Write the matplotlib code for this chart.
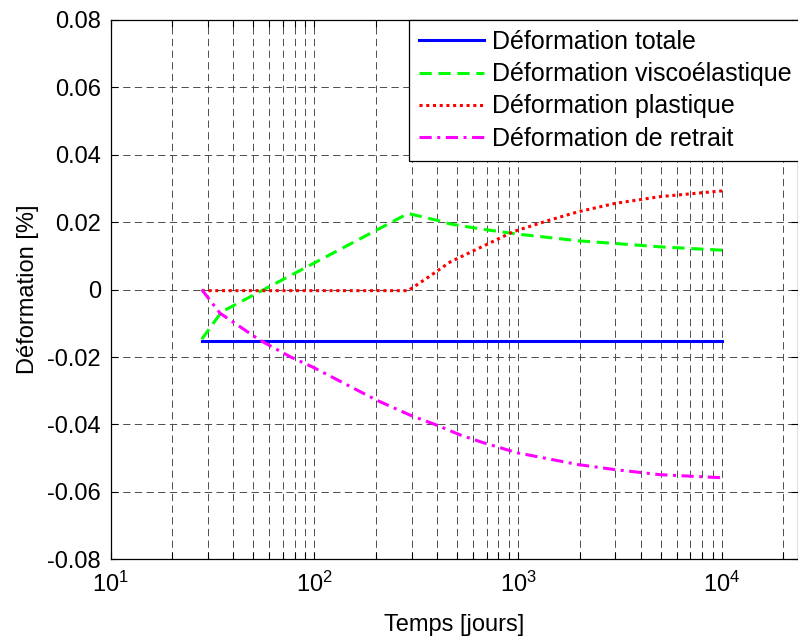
import matplotlib
matplotlib.use('Agg')
import matplotlib.pyplot as plt
from matplotlib.ticker import FixedLocator, LogLocator, NullFormatter, FixedFormatter

# fonts (Arial-like, as in MATLAB exports)
plt.rcParams['font.family'] = ['Liberation Sans', 'DejaVu Sans']
plt.rcParams['mathtext.fontset'] = 'custom'
plt.rcParams['mathtext.rm'] = 'Liberation Sans'
plt.rcParams['mathtext.it'] = 'Liberation Sans'
plt.rcParams['font.size'] = 17

# data (time in days, strain in %)
t_totale = [28, 10000]
def_totale = [-0.0152, -0.0152]

t_visco = [28, 35, 288, 398, 463, 673, 988, 1968, 2990, 4975, 10000]
def_visco = [-0.0147, -0.0066, 0.0226, 0.0206, 0.0195, 0.0179, 0.0165, 0.0145, 0.0137, 0.0127, 0.0117]

t_plast = [28, 288, 356, 463, 946, 1436, 1968, 2990, 4975, 10000]
def_plast = [-0.0003, -0.0003, 0.0034, 0.0082, 0.0172, 0.0207, 0.0231, 0.0256, 0.0276, 0.0293]

t_retrait = [28, 34.4, 54, 76, 99, 202, 294, 398, 519, 673, 988, 1968, 2990, 4975, 10000]
def_retrait = [0, -0.0070, -0.0150, -0.0199, -0.0231, -0.0328, -0.0372, -0.0402, -0.0431,
               -0.0454, -0.0484, -0.0519, -0.0534, -0.0549, -0.0558]

labels = ['Déformation totale', 'Déformation viscoélastique',
          'Déformation plastique', 'Déformation de retrait']

y_ticks = [-0.08, -0.06, -0.04, -0.02, 0, 0.02, 0.04, 0.06, 0.08]
y_ticklabels = ['-0.08', '-0.06', '-0.04', '-0.02', '0', '0.02', '0.04', '0.06', '0.08']
x_ticks = [10, 100, 1000, 10000]
x_ticklabels = [r'$\mathregular{10^{1}}$', r'$\mathregular{10^{2}}$',
                r'$\mathregular{10^{3}}$', r'$\mathregular{10^{4}}$']

W, H = 798, 636
fig = plt.figure(figsize=(W / 100, H / 100), dpi=100)
# axes runs to the right edge of the image (the reference is cropped there)
ax = fig.add_axes([110.7 / W, 1 - 559.3 / H, 1 - 110.7 / W, (559.3 - 20) / H])

ax.plot(t_totale, def_totale, color='b', lw=2.2, ls='-', label=labels[0])
ax.plot(t_visco, def_visco, color=(0, 1, 0), lw=2.2, ls=(0, (4, 2.2)), label=labels[1])
ax.plot(t_plast, def_plast, color='r', lw=2.2, ls=(0, (1, 1.2)), label=labels[2])
ax.plot(t_retrait, def_retrait, color=(1, 0, 1), lw=2.2, ls=(0, (4, 1.8, 1, 1.8)), label=labels[3])

ax.set_xscale('log')
ax.set_xlim(10, 2.36e4)
ax.set_ylim(-0.08, 0.08)

ax.xaxis.set_major_locator(FixedLocator(x_ticks))
ax.xaxis.set_major_formatter(FixedFormatter(x_ticklabels))
ax.xaxis.set_minor_locator(LogLocator(base=10, subs=range(2, 10), numticks=20))
ax.xaxis.set_minor_formatter(NullFormatter())
ax.yaxis.set_major_locator(FixedLocator(y_ticks))
ax.yaxis.set_major_formatter(FixedFormatter(y_ticklabels))

ax.tick_params(which='both', direction='in', top=True, right=True, width=0.8)
ax.tick_params(which='major', length=5)
ax.tick_params(which='minor', length=5)
ax.tick_params(axis='y', pad=7)
ax.tick_params(axis='x', pad=9)

ax.grid(True, which='major', axis='both', color='0.3', lw=0.7, ls=(0, (7.5, 4.5)))
ax.grid(True, which='minor', axis='x', color='0.3', lw=0.7, ls=(0, (7.5, 4.5)))
ax.set_axisbelow(True)
for s in ax.spines.values():
    s.set_linewidth(0.9)

ax.set_xlabel('Temps [jours]', labelpad=12)
ax.set_ylabel('Déformation [%]', labelpad=6)

leg = ax.legend(loc='upper left', bbox_to_anchor=(409 / W, 1 - 20 / H),
                bbox_transform=fig.transFigure, fancybox=False, shadow=False,
                framealpha=1, edgecolor='k', handlelength=2.6, handletextpad=0.32,
                labelspacing=0.33, borderpad=0.4, borderaxespad=0, fontsize=18)
leg.get_frame().set_linewidth(0.9)

plt.savefig('out.png', dpi=100)
